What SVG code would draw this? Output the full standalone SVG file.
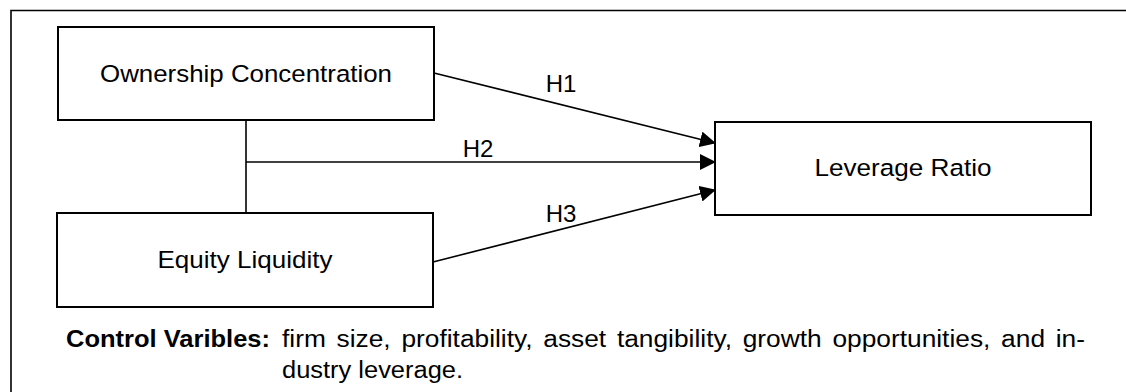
<svg xmlns="http://www.w3.org/2000/svg" width="1126" height="392" viewBox="0 0 1126 392">
<style>
.box{fill:#fff;stroke:#000;stroke-width:2}
.lbl{font-family:"Liberation Sans",Arial,sans-serif;font-size:24.5px;fill:#000;text-anchor:middle}
.h{font-family:"Liberation Sans",Arial,sans-serif;font-size:24px;fill:#000;text-anchor:middle}
.conn{stroke:#000;stroke-width:1.6;fill:none}
.ctl{font-family:"Liberation Sans",Arial,sans-serif;font-size:23px;fill:#000}
</style>
<defs>
<marker id="arr" markerUnits="userSpaceOnUse" markerWidth="16" markerHeight="16" viewBox="0 0 16 16" refX="15" refY="8" orient="auto">
<path d="M0,0 L16,8 L0,16 Z" fill="#000"/>
</marker>
</defs>
<rect width="1126" height="392" fill="#fff"/>
<g id="frame">
<path d="M11,392 V10.5 H1126" class="conn" stroke-width="2"/>
</g>
<g id="node-ownership">
<rect class="box" x="58" y="27" width="376" height="93"/>
<text class="lbl" x="246" y="82" textLength="292" lengthAdjust="spacingAndGlyphs">Ownership Concentration</text>
</g>
<g id="node-equity">
<rect class="box" x="57" y="213" width="376" height="94"/>
<text class="lbl" x="245" y="268" textLength="175" lengthAdjust="spacingAndGlyphs">Equity Liquidity</text>
</g>
<g id="node-leverage">
<rect class="box" x="715" y="122" width="376" height="93"/>
<text class="lbl" x="903" y="176" textLength="177" lengthAdjust="spacingAndGlyphs">Leverage Ratio</text>
</g>
<g id="connectors">
<line class="conn" x1="246" y1="120" x2="246" y2="213"/>
<line class="conn" x1="434" y1="73" x2="715" y2="143" marker-end="url(#arr)"/>
<line class="conn" x1="246" y1="162" x2="715" y2="162" marker-end="url(#arr)"/>
<line class="conn" x1="433" y1="262" x2="715" y2="190" marker-end="url(#arr)"/>
<text class="h" x="561" y="92">H1</text>
<text class="h" x="478" y="157">H2</text>
<text class="h" x="561" y="222">H3</text>
</g>
<g id="controls">
<text class="ctl" x="66" y="347" font-weight="bold" textLength="204" lengthAdjust="spacingAndGlyphs">Control Varibles:</text>
<text class="ctl" x="282" y="347" textLength="803" lengthAdjust="spacingAndGlyphs" word-spacing="3">firm size, profitability, asset tangibility, growth opportunities, and in-</text>
<text class="ctl" x="282" y="378" textLength="181" lengthAdjust="spacingAndGlyphs">dustry leverage.</text>
</g>
</svg>
